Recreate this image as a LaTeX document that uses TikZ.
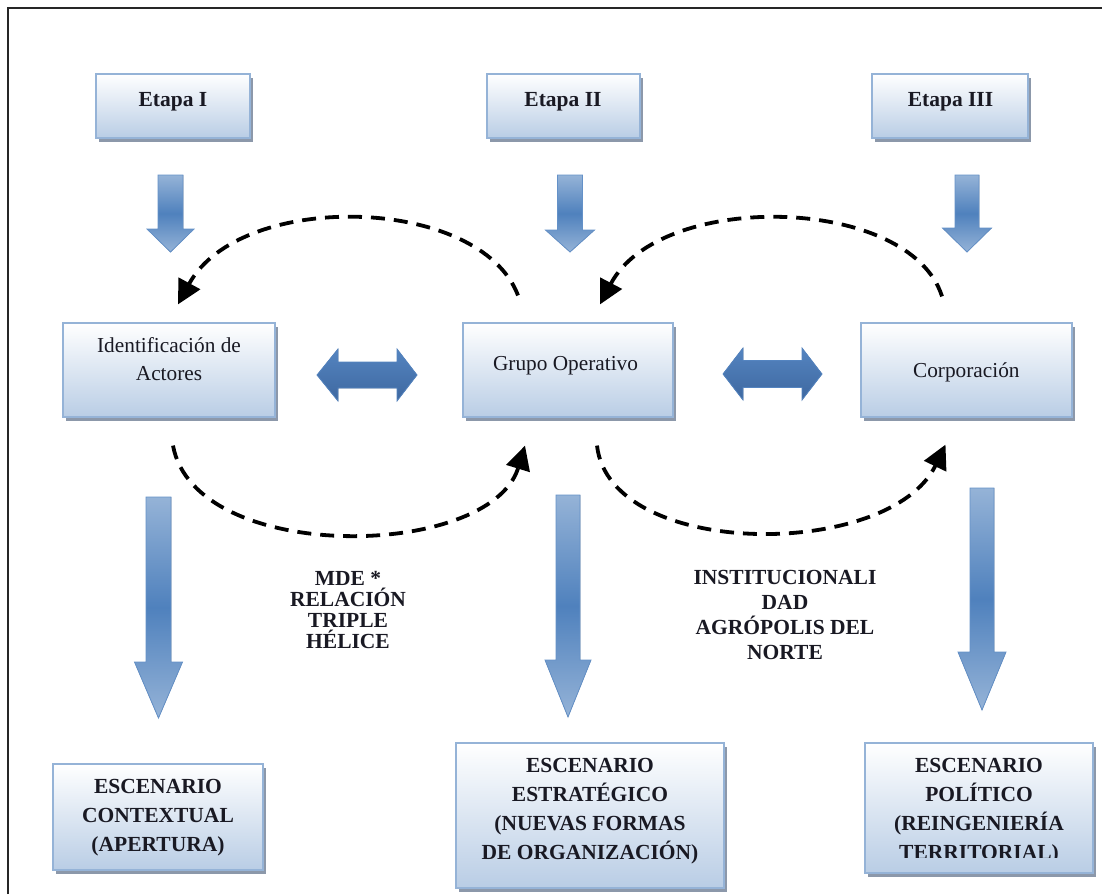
\documentclass[tikz,border=0pt]{standalone}
\usepackage{fontspec}
\setmainfont{Liberation Serif}
\usetikzlibrary{arrows.meta,shadows}
\definecolor{bxblue}{RGB}{185,205,229}
\definecolor{bxborder}{RGB}{149,179,215}
\definecolor{shc}{RGB}{140,152,170}
\definecolor{arlight}{RGB}{149,179,215}
\definecolor{ardark}{RGB}{79,129,189}
\definecolor{arline}{RGB}{100,145,200}
\definecolor{dbl}{RGB}{84,132,192}
\definecolor{dbldark}{RGB}{62,104,160}
\definecolor{txc}{RGB}{25,25,35}
\newcommand\dnarrow[6]{% cx, top, shaft half, head base y, head half, tip y
  \filldraw[blk] (#1-#3,#2) -- (#1+#3,#2) -- (#1+#3,#4) -- (#1+#5,#4) -- (#1,#6)
    -- (#1-#5,#4) -- (#1-#3,#4) -- cycle;}
\newcommand\lrarrow[7]{% x1, x2, cy, shaft half, head base 1, head base 2, head half
  \filldraw[dblk] (#1,#3) -- (#5,#3-#7) -- (#5,#3-#4) -- (#6,#3-#4) -- (#6,#3-#7) -- (#2,#3)
    -- (#6,#3+#7) -- (#6,#3+#4) -- (#5,#3+#4) -- (#5,#3+#7) -- cycle;}
\begin{document}
\begin{tikzpicture}[x=1pt,y=-1pt,
  bx/.style={draw=bxborder,line width=1.2pt,top color=white,bottom color=bxblue,
    drop shadow={shadow xshift=3pt,shadow yshift=-4pt,fill=shc,opacity=1},inner sep=0pt},
  tx/.style={font=\fontsize{21.3}{28}\selectfont,align=center,text=txc,inner sep=0pt},
  txb/.style={font=\fontsize{21.5}{29}\selectfont\bfseries,align=center,text=txc,inner sep=0pt},
  dsh/.style={line width=3.8pt,dash pattern=on 14pt off 9pt,-{Triangle[length=24pt,width=24pt]}},
  blk/.style={draw=arline,line width=0.8pt,top color=arlight,bottom color=arlight,middle color=ardark},
  dblk/.style={draw=dbl,line width=0.8pt,top color=dbl,bottom color=dbldark}
]
\useasboundingbox (0,0) rectangle (1102,894);
\fill[white] (0,0) rectangle (1102,894);
% frame
\draw[line width=2.5pt,black!85] (8,894) -- (8,8) -- (1102,8);

% top boxes
\node[bx,minimum width=154pt,minimum height=64pt] (e1) at (173,106) {};
\node[bx,minimum width=153pt,minimum height=64pt] (e2) at (563.5,106) {};
\node[bx,minimum width=156pt,minimum height=64pt] (e3) at (950,106) {};
\node[txb,anchor=base] (te1) at (173,106) {Etapa I};
\node[txb,anchor=base] (te2) at (563,106) {Etapa II};
\node[txb,anchor=base] (te3) at (950.5,106) {Etapa III};

% middle boxes
\node[bx,minimum width=212pt,minimum height=94pt] (ia) at (169,370) {};
\node[bx,minimum width=210pt,minimum height=94pt] (go) at (568,370) {};
\node[bx,minimum width=211pt,minimum height=94pt] (co) at (966.5,370) {};
\node[tx] (tia) at (169,359.5) {Identificación de\\Actores};
\node[tx,anchor=base] (tgo) at (565.5,370) {Grupo Operativo};
\node[tx,anchor=base] (tco) at (966.3,377) {Corporación};

% bottom boxes
\node[bx,minimum width=210pt,minimum height=106pt] (s1) at (158,817) {};
\node[bx,minimum width=268pt,minimum height=145pt] (s2) at (590,815.5) {};
\node[bx,minimum width=228pt,minimum height=130pt] (s3) at (979,808) {};
\node[txb] (ts1) at (158,817.6) {ESCENARIO\\CONTEXTUAL\\(APERTURA)};
\node[txb] (ts2) at (590,811.1) {ESCENARIO\\ESTRATÉGICO\\(NUEVAS FORMAS\\DE ORGANIZACIÓN)};
\begin{scope}
  \clip (865,743) rectangle (1093,857);
  \node[txb] (ts3) at (979,811.1) {ESCENARIO\\POLÍTICO\\(REINGENIERÍA\\TERRITORIAL)};
\end{scope}

% small down arrows
\dnarrow{170.5}{175}{12.5}{229}{23.5}{252}
\dnarrow{570}{175}{12.5}{230}{24.5}{252}
\dnarrow{967}{175}{12}{228}{24.5}{252}
% big down arrows
\dnarrow{158.5}{497}{12.5}{662}{24}{718}
\dnarrow{568}{495}{12}{660}{23}{717}
\dnarrow{982}{488}{12}{652}{24}{710}
% double arrows
\lrarrow{317}{417}{375}{13}{338}{397}{26}
\lrarrow{723}{822}{374}{13.5}{743}{802}{26}

% dashed curves
\draw[dsh] ([shift={(-50,-27)}]go.north) .. controls (480,195) and (240,190) .. ([shift={(9,-18)}]ia.north);
\draw[dsh] ([shift={(-24.5,-26)}]co.north) .. controls (910,195) and (660,190) .. ([shift={(32,-18)}]go.north);
\draw[dsh] ([shift={(4,28)}]ia.south) .. controls (195,565) and (490,560) .. ([shift={(-43,28)}]go.south);
\draw[dsh] ([shift={(29,28)}]go.south) .. controls (610,560) and (890,560) .. ([shift={(-21,27)}]co.south);

% labels
\node[txb,font=\fontsize{21.5}{21.3}\selectfont\bfseries] (l1) at (348,610) {MDE *\\RELACIÓN\\TRIPLE\\HÉLICE};
\node[txb,font=\fontsize{21.5}{24.7}\selectfont\bfseries] (l2) at (785,615) {INSTITUCIONALI\\DAD\\AGRÓPOLIS DEL\\NORTE};
\end{tikzpicture}
\end{document}
